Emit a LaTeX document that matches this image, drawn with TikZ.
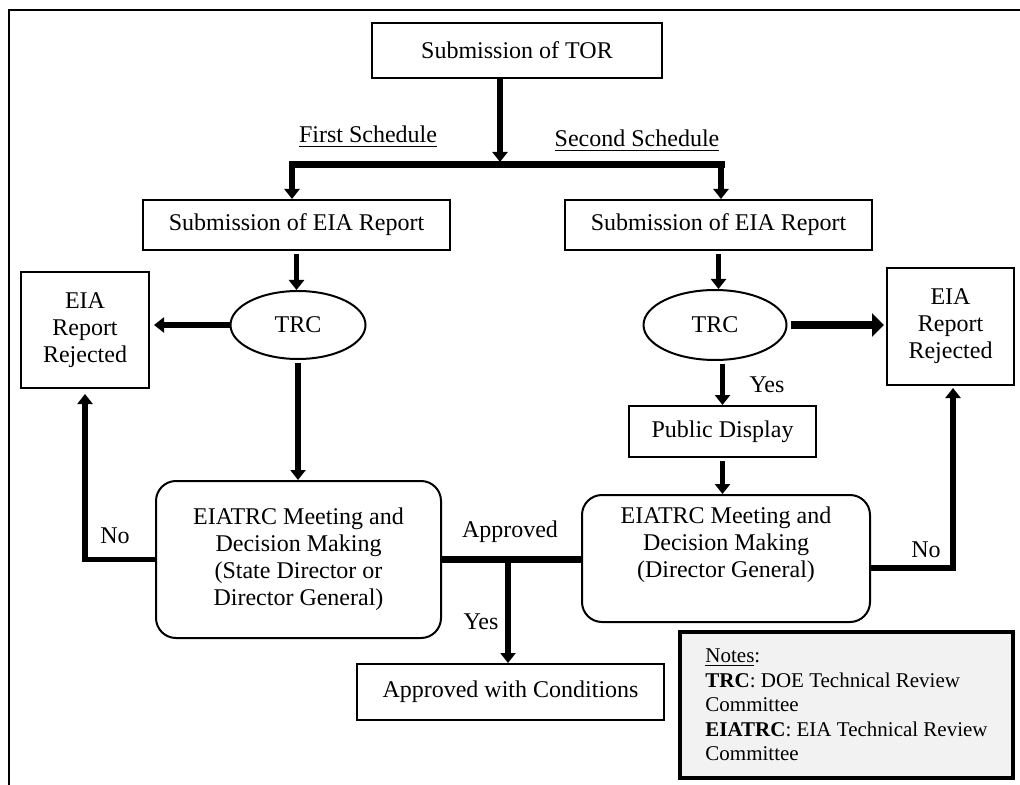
\documentclass[tikz,border=0pt]{standalone}
\usepackage{fontspec}
\setmainfont{Liberation Serif}
\usetikzlibrary{arrows.meta,shapes.geometric}
\definecolor{notegray}{HTML}{F2F2F2}
\begin{document}
\begin{tikzpicture}[x=0.5pt,y=-0.5pt,
  box/.style={draw,line width=1pt,inner sep=0pt,font=\fontsize{12}{13.5}\selectfont,align=center},
  oval/.style={box,ellipse},
  rbox/.style={box,rounded corners=10pt},
  flow/.style={line width=2.8pt,-{Triangle[length=5pt,width=7.5pt]}},
  bigflow/.style={line width=4pt,-{Triangle[length=6pt,width=11.5pt]}},
  bar/.style={line width=3.5pt,line cap=rect},
  lbl/.style={font=\fontsize{12}{13.5}\selectfont,anchor=base,inner sep=0pt}]
\useasboundingbox (0,0) rectangle (1020,785);
\draw[line width=1.2pt] (9,785) -- (9,10) -- (1020,10);

% nodes
\node[box,minimum width=145pt,minimum height=27.5pt] (tor) at (517,50.5) {Submission of TOR};
\node[box,minimum width=153.5pt,minimum height=25pt] (eiaL) at (296.5,225) {Submission of EIA Report};
\node[box,minimum width=153.5pt,minimum height=25pt] (eiaR) at (718.5,225) {Submission of EIA Report};
\node[oval,minimum width=67.5pt,minimum height=34pt] (trcL) at (298,325) {TRC};
\node[oval,minimum width=71.5pt,minimum height=35pt] (trcR) at (715,325) {TRC};
\node[box,minimum width=64pt,minimum height=58pt] (rejL) at (85,330) {EIA\\Report\\Rejected};
\node[box,minimum width=63.5pt,minimum height=58.5pt] (rejR) at (950.5,326.5) {EIA\\Report\\Rejected};
\node[box,minimum width=93.5pt,minimum height=25.5pt] (pub) at (722.5,431.5) {Public Display};
\node[rbox,minimum width=142.5pt,minimum height=78.5pt] (decL) at (298.5,559.5) {EIATRC Meeting and\\Decision Making\\(State Director or\\Director General)};
\node[rbox,minimum width=144pt,minimum height=63.5pt] (decR) at (726,558.5) {EIATRC Meeting and\\Decision Making\\(Director General)\\[3pt]};
\node[box,minimum width=153.5pt,minimum height=28pt] (cond) at (510.5,692) {Approved with Conditions};
\node[draw,line width=1.8pt,fill=notegray,minimum width=166.5pt,minimum height=73pt,inner sep=0pt,align=left,font=\fontsize{10.5}{12.25}\selectfont] (notes) at (846.5,705) {\underline{Notes}:\\\textbf{TRC}: DOE Technical Review\\Committee\\\textbf{EIATRC}: EIA Technical Review\\Committee};

% connectors
\coordinate (j) at (500,165);
\coordinate (bL) at (292,165);
\coordinate (bR) at (721,165);
\draw[flow] (tor.south -| j) -- ([yshift=1.5pt]j);
\draw[bar] (bL) -- (bR);
\draw[flow] (bL) -- (bL |- eiaL.north);
\draw[flow] (bR) -- (bR |- eiaR.north);
\draw[flow,shorten <=1.5pt] (eiaL.south) -- (eiaL.south |- trcL.north);
\draw[flow,shorten <=1.5pt] (eiaR.south) -- (eiaR.south |- trcR.north);
\draw[flow,shorten >=2pt] (trcL.west) -- (trcL.west -| rejL.east);
\draw[bigflow,shorten <=1.5pt,shorten >=1pt] (trcR.east) -- (trcR.east -| rejR.west);
\draw[flow,shorten <=1.5pt] (trcL.south) -- (trcL.south |- decL.north);
\draw[flow,shorten <=1.5pt] (pub.north |- trcR.south) -- (pub.north);
\draw[flow,shorten <=1.5pt] (pub.south) -- (pub.south |- decR.north);
\draw[bar,line cap=butt] (decL.east) -- (decL.east -| decR.west);
\coordinate (ap) at (508,559.5);
\draw[flow] (ap) -- (ap |- cond.north);
\draw[flow,shorten >=2.5pt] (decL.west) -| (rejL.south);
\draw[flow,line width=3.3pt,shorten >=1pt] ([yshift=-4.75pt]decR.east) -| ([xshift=1.25pt]rejR.south);

% labels
\node[lbl] (fs) at (368,143) {\underline{First Schedule}};
\node[lbl] (ss) at (637,147) {\underline{Second Schedule}};
\node[lbl] (yesR) at (767,392) {Yes};
\node[lbl] (appr) at (510,537) {Approved};
\node[lbl] (yesB) at (481,629) {Yes};
\node[lbl] (noL) at (115,543) {No};
\node[lbl] (noR) at (926,557) {No};
\end{tikzpicture}
\end{document}
